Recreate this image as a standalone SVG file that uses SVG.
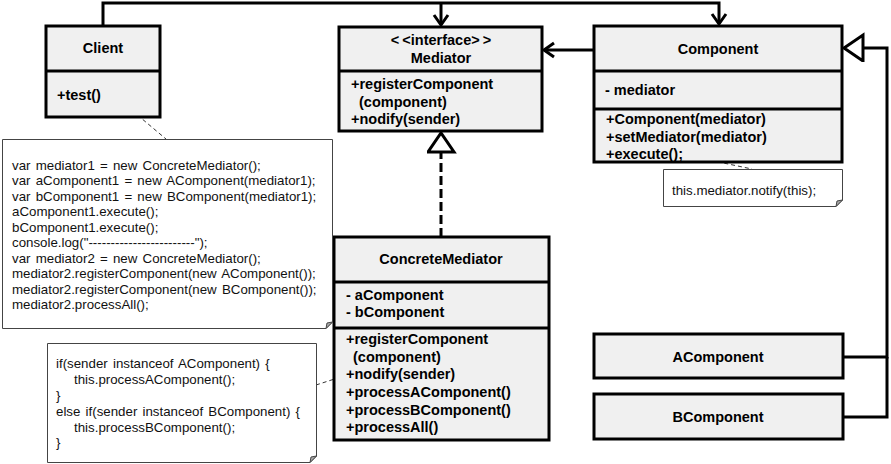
<svg xmlns="http://www.w3.org/2000/svg" width="891" height="464" viewBox="0 0 891 464">
<defs>
<style>
.box{fill:#f0f0f0;stroke:#000;stroke-width:3}
.div{stroke:#000;stroke-width:3}
.t{font-family:"Liberation Sans",Arial,sans-serif;font-weight:bold;font-size:14.5px;fill:#000}
.c{text-anchor:middle}
.n{font-family:"Liberation Sans",Arial,sans-serif;font-size:13.3px;word-spacing:1.5px;fill:#111}
.note{fill:#fff;stroke:#444;stroke-width:1}
.ear{fill:#aaa;stroke:#444;stroke-width:1}
.edge{fill:none;stroke:#000;stroke-width:3}
.dash{fill:none;stroke:#000;stroke-width:3;stroke-dasharray:9 4}
.nd{fill:none;stroke:#333;stroke-width:1;stroke-dasharray:4 3}
</style>
<marker id="open" markerUnits="userSpaceOnUse" markerWidth="20" markerHeight="20" refX="14" refY="10" orient="auto">
<path d="M4,3 L14,10 L4,17" fill="none" stroke="#000" stroke-width="3"/>
</marker>
<marker id="tri" markerUnits="userSpaceOnUse" markerWidth="30" markerHeight="30" refX="21" refY="14" orient="auto">
<path d="M2,1 L21,14 L2,27 Z" fill="#fff" stroke="#000" stroke-width="3"/>
</marker>
</defs>

<g id="connectors">
<path class="edge" d="M103,26 V3 H719 V24" marker-end="url(#open)"/>
<path class="edge" d="M441,3 V25" marker-end="url(#open)"/>
<path class="edge" d="M594,50 H544" marker-end="url(#open)"/>
<path class="dash" d="M441,237 V133" marker-end="url(#tri)"/>
<path class="edge" d="M843,357 H887 V48 H844" marker-end="url(#tri)"/>
<path class="edge" d="M843,417 H887 V357"/>
<path class="nd" d="M116,97 L166,139"/>
<path class="nd" d="M690,156 L752,169"/>
<path class="nd" d="M316,385 L350,374"/>
</g>

<g id="client">
<rect class="box" x="46" y="26" width="114" height="91"/>
<line class="div" x1="46" y1="71" x2="160" y2="71"/>
<text class="t c" x="103" y="53">Client</text>
<text class="t" x="57" y="100">+test()</text>
</g>

<g id="mediator">
<rect class="box" x="339" y="27" width="203" height="104"/>
<line class="div" x1="339" y1="71" x2="542" y2="71"/>
<text class="t c" x="441" y="45"><tspan letter-spacing="3">&lt;</tspan>&lt;interface&gt;<tspan dx="3">&gt;</tspan></text>
<text class="t c" x="441" y="63">Mediator</text>
<text class="t" x="351" y="89">+registerComponent</text>
<text class="t" x="359" y="107">(component)</text>
<text class="t" x="351" y="124">+nodify(sender)</text>
</g>

<g id="component">
<rect class="box" x="594" y="26" width="248" height="136"/>
<line class="div" x1="594" y1="71" x2="842" y2="71"/>
<line class="div" x1="594" y1="109" x2="842" y2="109"/>
<text class="t c" x="718" y="54">Component</text>
<text class="t" x="605" y="95">- mediator</text>
<text class="t" x="606" y="124">+Component(mediator)</text>
<text class="t" x="606" y="142">+setMediator(mediator)</text>
<text class="t" x="606" y="159">+execute();</text>
</g>

<g id="concreteMediator">
<rect class="box" x="334" y="237" width="215" height="203"/>
<line class="div" x1="334" y1="282" x2="549" y2="282"/>
<line class="div" x1="334" y1="328" x2="549" y2="328"/>
<text class="t c" x="441" y="264">ConcreteMediator</text>
<text class="t" x="346" y="300">- aComponent</text>
<text class="t" x="346" y="317">- bComponent</text>
<text class="t" x="346" y="344">+registerComponent</text>
<text class="t" x="353" y="362">(component)</text>
<text class="t" x="346" y="379">+nodify(sender)</text>
<text class="t" x="346" y="397">+processAComponent()</text>
<text class="t" x="346" y="415">+processBComponent()</text>
<text class="t" x="346" y="432">+processAll()</text>
</g>

<g id="aComponent">
<rect class="box" x="594" y="334" width="249" height="44"/>
<text class="t c" x="718" y="362">AComponent</text>
</g>

<g id="bComponent">
<rect class="box" x="594" y="394" width="249" height="45"/>
<text class="t c" x="718" y="422">BComponent</text>
</g>

<g id="noteClient">
<path class="note" d="M2.5,139.5 H332.5 V322 L326,328.5 H2.5 Z"/>
<path class="ear" d="M326,328.5 L332.5,322 L327,323 Z"/>
<text class="n" x="12" y="169.5">var mediator1 = new ConcreteMediator();</text>
<text class="n" x="12" y="185">var aComponent1 = new AComponent(mediator1);</text>
<text class="n" x="12" y="200.5">var bComponent1 = new BComponent(mediator1);</text>
<text class="n" x="12" y="216">aComponent1.execute();</text>
<text class="n" x="12" y="231.5">bComponent1.execute();</text>
<text class="n" x="12" y="247">console.log("------------------------");</text>
<text class="n" x="12" y="262.5">var mediator2 = new ConcreteMediator();</text>
<text class="n" x="12" y="278">mediator2.registerComponent(new AComponent());</text>
<text class="n" x="12" y="293.5">mediator2.registerComponent(new BComponent());</text>
<text class="n" x="12" y="309">mediator2.processAll();</text>
</g>

<g id="noteExecute">
<path class="note" d="M663.5,169.5 H842.5 V200 L836,206.5 H663.5 Z"/>
<path class="ear" d="M836,206.5 L842.5,200 L837,201 Z"/>
<text class="n" x="672" y="194.5">this.mediator.notify(this);</text>
</g>

<g id="noteNodify">
<path class="note" d="M47.5,343.5 H316.5 V456 L310,462.5 H47.5 Z"/>
<path class="ear" d="M310,462.5 L316.5,456 L311,457 Z"/>
<text class="n" x="56" y="367.5">if(sender instanceof AComponent) {</text>
<text class="n" x="74" y="383.5">this.processAComponent();</text>
<text class="n" x="56" y="399.5">}</text>
<text class="n" x="56" y="415.5">else if(sender instanceof BComponent) {</text>
<text class="n" x="74" y="431.5">this.processBComponent();</text>
<text class="n" x="56" y="446.5">}</text>
</g>
</svg>
